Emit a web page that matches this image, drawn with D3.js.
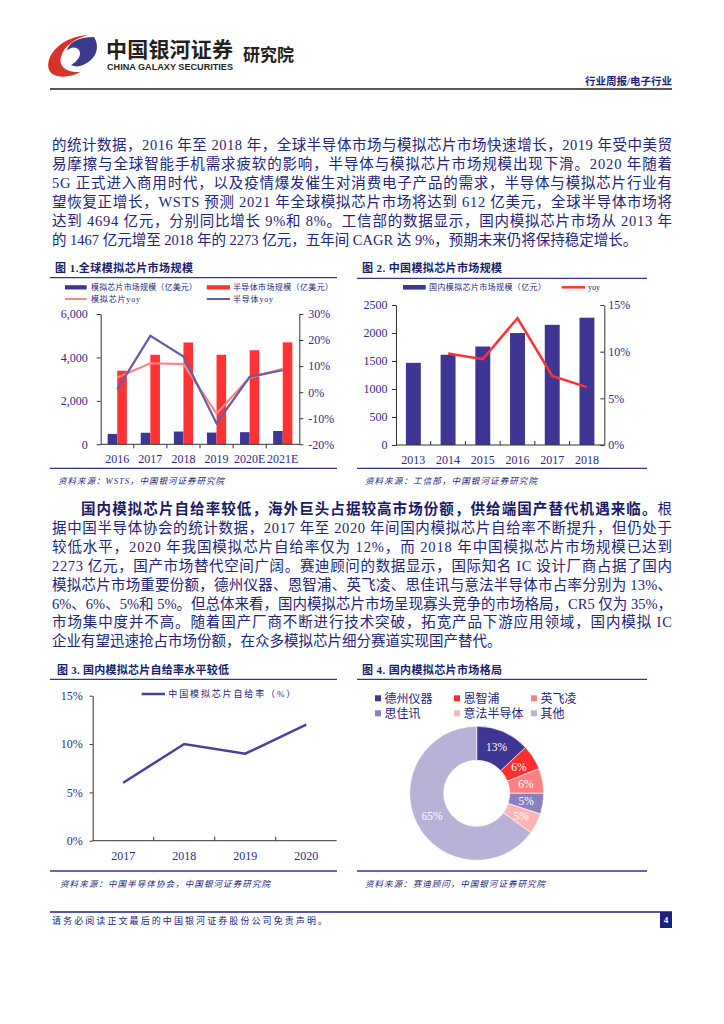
<!DOCTYPE html>
<html lang="zh">
<head>
<meta charset="UTF-8">
<title>行业周报/电子行业</title>
<script src="https://d3js.org/d3.v7.min.js"></script>
<style>
  html, body { margin: 0; padding: 0; background: #fff; }
  svg { display: block; }
  text { font-family: "Liberation Serif", "Noto Sans CJK SC", serif; }
  .tick text { font-size: 12px; fill: #2f2a85; }
  .tick line, .domain { stroke: #333; stroke-width: 1; }
</style>
</head>
<body>
<svg id="page" width="724" height="1024"></svg>
<script>
// ---- data ----
const globalYears = ["2016", "2017", "2018", "2019", "2020E", "2021E"];
const analogMarket = [478, 531, 588, 539, 557, 612];        // 亿美元
const semiMarket = [3389, 4122, 4688, 4123, 4331, 4694];    // 亿美元
const analogYoy = [5.6, 11.1, 10.8, -8.2, 5.5, 9.0];
const semiYoy = [1.1, 21.6, 13.7, -12.0, 5.9, 8.4];

const cnYears = ["2013", "2014", "2015", "2016", "2017", "2018"];
const cnMarket = [1467, 1611, 1759, 1999, 2146, 2273];      // 亿元
const cnYoy = [null, 9.8, 9.2, 13.6, 7.4, 6.2];

const selfYears = ["2017", "2018", "2019", "2020"];
const selfRate = [6, 10, 9, 12];

const vendors = ["德州仪器", "恩智浦", "英飞凌", "思佳讯", "意法半导体", "其他"];
const vendorShare = [13, 6, 6, 5, 5, 65];

const para1 = [
  "的统计数据，2016 年至 2018 年，全球半导体市场与模拟芯片市场快速增长，2019 年受中美贸",
  "易摩擦与全球智能手机需求疲软的影响，半导体与模拟芯片市场规模出现下滑。2020 年随着",
  "5G 正式进入商用时代，以及疫情爆发催生对消费电子产品的需求，半导体与模拟芯片行业有",
  "望恢复正增长，WSTS 预测 2021 年全球模拟芯片市场将达到 612 亿美元，全球半导体市场将",
  "达到 4694 亿元，分别同比增长 9%和 8%。工信部的数据显示，国内模拟芯片市场从 2013 年",
  "的 1467 亿元增至 2018 年的 2273 亿元，五年间 CAGR 达 9%，预期未来仍将保持稳定增长。"
];
const para2Lead = "国内模拟芯片自给率较低，海外巨头占据较高市场份额，供给端国产替代机遇来临。";
const para2 = [
  "根",
  "据中国半导体协会的统计数据，2017 年至 2020 年间国内模拟芯片自给率不断提升，但仍处于",
  "较低水平，2020 年我国模拟芯片自给率仅为 12%，而 2018 年中国模拟芯片市场规模已达到",
  "2273 亿元，国产市场替代空间广阔。赛迪顾问的数据显示，国际知名 IC 设计厂商占据了国内",
  "模拟芯片市场重要份额，德州仪器、恩智浦、英飞凌、思佳讯与意法半导体市占率分别为 13%、",
  "6%、6%、5%和 5%。但总体来看，国内模拟芯片市场呈现寡头竞争的市场格局，CR5 仅为 35%，",
  "市场集中度并不高。随着国产厂商不断进行技术突破，拓宽产品下游应用领域，国内模拟 IC",
  "企业有望迅速抢占市场份额，在众多模拟芯片细分赛道实现国产替代。"
];

// ---- colours ----
const NAVY = "#3f3694", RED = "#ff3333", PINK = "#ff8585", PURPLE = "#6a5ba6";
const TXT = "#24247a", RULE = "#34348c";
const sliceColors = ["#3f3694", "#ff2e2e", "#ff8080", "#8b7fbf", "#ffb5b5", "#b8b2d9"];

const svg = d3.select("#page");

// ---- header ----
const head = svg.append("g");
head.append("path")
  .attr("d", "M88,35 C64,36 44,54 49,70 C53,79 70,78 80,72 C68,73 58,67 61,57 C64,46 74,39 88,35 Z")
  .attr("fill", "#d8322a");
head.append("path")
  .attr("d", "M94,37 C100,46 97,58 85,64 C80,67 75,67 71,65 C78,61 82,55 79,50 C76,46 70,47 67,51 C68,43 78,37 94,37 Z")
  .attr("fill", "#3b3a8c");
head.append("text").attr("x", 106).attr("y", 57)
  .style("font-family", "'Noto Sans CJK SC'").attr("font-weight", "bold").attr("font-size", 21)
  .attr("fill", "#231f20").attr("textLength", 127).text("中国银河证券");
head.append("text").attr("x", 107).attr("y", 69.5)
  .style("font-family", "'Liberation Sans', Arial, sans-serif").attr("font-weight", "bold").attr("font-size", 9)
  .attr("fill", "#231f20").attr("textLength", 126).attr("lengthAdjust", "spacingAndGlyphs")
  .text("CHINA GALAXY SECURITIES");
head.append("text").attr("x", 243).attr("y", 61)
  .style("font-family", "'Noto Sans CJK SC'").attr("font-weight", "bold").attr("font-size", 17)
  .attr("fill", "#231f20").text("研究院");
head.append("text").attr("x", 672).attr("y", 85).attr("text-anchor", "end")
  .attr("font-weight", "bold").attr("font-size", 10.5).attr("fill", "#1f1f7a")
  .text("行业周报/电子行业");
head.append("line").attr("x1", 50).attr("x2", 672).attr("y1", 89).attr("y2", 89)
  .attr("stroke", "#222").attr("stroke-width", 1.6);

// ---- paragraphs ----
function paragraph(lines, y0, step) {
  lines.forEach((s, i) => {
    const t = svg.append("text").attr("x", 52).attr("y", y0 + i * step)
      .attr("font-size", 14.5).attr("fill", TXT).text(s);
    if (i < lines.length - 1) t.attr("textLength", 620).attr("lengthAdjust", "spacing");
  });
}
paragraph(para1, 150, 19);

const p2 = svg.append("text").attr("x", 81).attr("y", 514)
  .attr("font-size", 14.5).attr("fill", TXT)
  .attr("textLength", 591).attr("lengthAdjust", "spacing");
p2.append("tspan").attr("font-weight", "bold").attr("fill", "#1a1a66").text(para2Lead);
p2.append("tspan").text(para2[0]);
para2.slice(1).forEach((s, i) => {
  const t = svg.append("text").attr("x", 52).attr("y", 514 + (i + 1) * 18.9)
    .attr("font-size", 14.5).attr("fill", TXT).text(s);
  if (i < para2.length - 2) t.attr("textLength", 620).attr("lengthAdjust", "spacing");
});

// ---- chart frames ----
function frame(x0, x1, tx, ty, title, tLen, ruleY, srcY, src, sLen) {
  svg.append("text").attr("x", tx).attr("y", ty).attr("font-size", 11)
    .attr("font-weight", "bold").attr("fill", "#1c1c6b")
    .attr("textLength", tLen).attr("lengthAdjust", "spacing").text(title);
  svg.append("line").attr("x1", x0).attr("x2", x1).attr("y1", ruleY).attr("y2", ruleY)
    .attr("stroke", RULE).attr("stroke-width", 1.3);
  svg.append("line").attr("x1", x0).attr("x2", x1).attr("y1", srcY).attr("y2", srcY)
    .attr("stroke", RULE).attr("stroke-width", 1.3);
  svg.append("text").attr("x", tx + 3).attr("y", srcY + 16).attr("font-size", 8.5)
    .attr("font-style", "italic").attr("fill", TXT)
    .attr("textLength", sLen).attr("lengthAdjust", "spacing").text(src);
}
frame(50, 337, 55, 272, "图 1.全球模拟芯片市场规模", 138, 277.7, 468.3, "资料来源：WSTS，中国银河证券研究院", 166);
frame(357, 647, 362, 272, "图 2. 中国模拟芯片市场规模", 140, 278.3, 468.3, "资料来源：工信部，中国银河证券研究院", 172);
frame(50, 337, 57, 674, "图 3. 国内模拟芯片自给率水平较低", 172, 679.3, 871, "资料来源：中国半导体协会，中国银河证券研究院", 210);
frame(357, 647, 362, 674, "图 4. 国内模拟芯片市场格局", 140, 679.3, 871, "资料来源：赛迪顾问，中国银河证券研究院", 180);

function legendText(x, y, s, len, size) {
  const t = svg.append("text").attr("x", x).attr("y", y).attr("dy", "0.35em")
    .attr("font-size", size || 8).attr("fill", TXT).text(s);
  if (len) t.attr("textLength", len).attr("lengthAdjust", "spacing");
  return t;
}

function bottomAxis(x, y, tickDir, labelY) {
  const [r0, r1] = x.range();
  const g = svg.append("g");
  g.append("line").attr("x1", r0).attr("x2", r1).attr("y1", y).attr("y2", y).attr("stroke", "#333");
  g.selectAll("line.tk").data(x.domain().slice(1)).join("line").attr("class", "tk")
    .attr("x1", d => x(d)).attr("x2", d => x(d))
    .attr("y1", y).attr("y2", y + tickDir * 4).attr("stroke", "#333");
  g.selectAll("text").data(x.domain()).join("text")
    .attr("x", d => x(d) + x.bandwidth() / 2).attr("y", labelY)
    .attr("text-anchor", "middle").attr("font-size", 12).attr("fill", "#2f2a85")
    .text(d => d);
}

// ---- chart 1 ----
{
  const x = d3.scaleBand().domain(globalYears).range([100.7, 299.3]);
  const yL = d3.scaleLinear().domain([0, 6000]).range([444.3, 314]);
  const yR = d3.scaleLinear().domain([-20, 30]).range([444.3, 314]);
  const bw = x.bandwidth() * 0.29;

  legendText(91, 287.3, "模拟芯片市场规模（亿美元）", 106);
  legendText(233, 287.3, "半导体市场规模（亿美元）", 100);
  legendText(91, 299, "模拟芯片yoy", 49);
  legendText(233, 299, "半导体yoy", 40);
  svg.append("rect").attr("x", 65).attr("y", 285.2).attr("width", 21.7).attr("height", 4.3).attr("fill", NAVY);
  svg.append("rect").attr("x", 206.7).attr("y", 285.2).attr("width", 23.3).attr("height", 4.3).attr("fill", RED);
  svg.append("line").attr("x1", 65).attr("x2", 86.7).attr("y1", 299).attr("y2", 299).attr("stroke", PINK).attr("stroke-width", 2);
  svg.append("line").attr("x1", 206.7).attr("x2", 230).attr("y1", 299).attr("y2", 299).attr("stroke", PURPLE).attr("stroke-width", 2);

  const mid = d => x(d) + x.bandwidth() / 2;
  svg.append("g").selectAll("rect").data(globalYears).join("rect")
    .attr("x", d => mid(d) - bw).attr("width", bw)
    .attr("y", (d, i) => yL(analogMarket[i])).attr("height", (d, i) => yL(0) - yL(analogMarket[i]))
    .attr("fill", NAVY);
  svg.append("g").selectAll("rect").data(globalYears).join("rect")
    .attr("x", d => mid(d)).attr("width", bw)
    .attr("y", (d, i) => yL(semiMarket[i])).attr("height", (d, i) => yL(0) - yL(semiMarket[i]))
    .attr("fill", RED);

  svg.append("g").attr("transform", "translate(100.7,0)")
    .call(d3.axisLeft(yL).tickValues([0, 2000, 4000, 6000]).tickFormat(d3.format(","))
      .tickSize(4).tickSizeOuter(0).tickPadding(9));
  svg.append("g").attr("transform", "translate(299.3,0)")
    .call(d3.axisRight(yR).tickValues([-20, -10, 0, 10, 20, 30]).tickFormat(d => d + "%")
      .tickSize(4).tickSizeOuter(0).tickPadding(5));
  bottomAxis(x, 444.3, 1, 462.5);

  const line = d3.line().x((d, i) => mid(globalYears[i])).y(d => yR(d));
  svg.append("path").datum(analogYoy).attr("d", line)
    .attr("fill", "none").attr("stroke", PINK).attr("stroke-width", 2.2);
  svg.append("path").datum(semiYoy).attr("d", line)
    .attr("fill", "none").attr("stroke", PURPLE).attr("stroke-width", 2.2);
}

// ---- chart 2 ----
{
  const x = d3.scaleBand().domain(cnYears).range([396, 604.3]);
  const yL = d3.scaleLinear().domain([0, 2500]).range([445, 305]);
  const yR = d3.scaleLinear().domain([0, 15]).range([445, 305]);
  const bw = x.bandwidth() * 0.43;
  const mid = d => x(d) + x.bandwidth() / 2;

  svg.append("rect").attr("x", 403).attr("y", 285).attr("width", 22.7).attr("height", 4.6).attr("fill", NAVY);
  legendText(429, 287.3, "国内模拟芯片市场规模（亿元）", 117);
  svg.append("line").attr("x1", 561.7).attr("x2", 585).attr("y1", 287.3).attr("y2", 287.3)
    .attr("stroke", RED).attr("stroke-width", 2.5);
  legendText(588, 287.3, "yoy");

  svg.append("g").selectAll("rect").data(cnYears).join("rect")
    .attr("x", d => mid(d) - bw / 2).attr("width", bw)
    .attr("y", (d, i) => yL(cnMarket[i])).attr("height", (d, i) => yL(0) - yL(cnMarket[i]))
    .attr("fill", NAVY);

  svg.append("g").attr("transform", "translate(396,0)")
    .call(d3.axisLeft(yL).tickValues(d3.range(0, 2501, 500)).tickFormat(d => d)
      .tickSize(4).tickSizeOuter(0).tickPadding(4.5));
  svg.append("g").attr("transform", "translate(604.3,0)")
    .call(d3.axisRight(yR).tickValues([0, 5, 10, 15]).tickFormat(d => d + "%")
      .tickSize(-4).tickSizeOuter(0).tickPadding(4));
  bottomAxis(x, 445, -1, 463.5);

  const line = d3.line().defined(d => d != null).x((d, i) => mid(cnYears[i])).y(d => yR(d));
  svg.append("path").datum(cnYoy).attr("d", line)
    .attr("fill", "none").attr("stroke", RED).attr("stroke-width", 2.5);
}

// ---- chart 3 ----
{
  const x = d3.scaleBand().domain(selfYears).range([92.7, 336.7]);
  const y = d3.scaleLinear().domain([0, 15]).range([840.7, 695.7]);
  const mid = d => x(d) + x.bandwidth() / 2;

  svg.append("line").attr("x1", 141.7).attr("x2", 165).attr("y1", 694).attr("y2", 694)
    .attr("stroke", "#4b3f9c").attr("stroke-width", 2.5);
  legendText(168.3, 694, "中国模拟芯片自给率（%）", 127, 9);

  svg.append("g").attr("transform", "translate(92.7,0)")
    .call(d3.axisLeft(y).tickValues([0, 5, 10, 15]).tickFormat(d => d + "%")
      .tickSize(3).tickSizeOuter(0).tickPadding(7));
  bottomAxis(x, 840.7, -1, 860);

  const line = d3.line().x((d, i) => mid(selfYears[i])).y(d => y(d));
  svg.append("path").datum(selfRate).attr("d", line)
    .attr("fill", "none").attr("stroke", "#4b3f9c").attr("stroke-width", 2.5);
}

// ---- chart 4 ----
{
  const cols = [375, 454, 531];
  vendors.forEach((v, i) => {
    const cx = cols[i % 3], cy = i < 3 ? 698.3 : 713.3;
    svg.append("rect").attr("x", cx).attr("y", cy - 3).attr("width", 6).attr("height", 6)
      .attr("fill", sliceColors[i]);
    legendText(cx + 9.5, cy, v, null, 12);
  });

  const pie = d3.pie().sort(null).value(d => d)(vendorShare);
  const arc = d3.arc().innerRadius(33).outerRadius(67);
  const g = svg.append("g").attr("transform", "translate(476.7,793.3)");
  g.selectAll("path").data(pie).join("path")
    .attr("d", arc).attr("fill", (d, i) => sliceColors[i])
    .attr("stroke", "#fff").attr("stroke-width", 0.6);
  g.selectAll("text").data(pie).join("text")
    .attr("transform", d => `translate(${arc.centroid(d)})`)
    .attr("text-anchor", "middle").attr("dy", "0.35em")
    .attr("font-size", 11.5).attr("fill", "#fff")
    .text(d => d.data + "%");
}

// ---- footer ----
svg.append("line").attr("x1", 50).attr("x2", 672).attr("y1", 912).attr("y2", 912)
  .attr("stroke", "#1f1f7a").attr("stroke-width", 1.5);
svg.append("text").attr("x", 52).attr("y", 923.5).attr("font-size", 9).attr("fill", TXT)
  .attr("textLength", 275).attr("lengthAdjust", "spacing")
  .text("请务必阅读正文最后的中国银河证券股份公司免责声明。");
svg.append("rect").attr("x", 660).attr("y", 912).attr("width", 12).attr("height", 16).attr("fill", "#1f1f7a");
svg.append("text").attr("x", 666).attr("y", 923).attr("text-anchor", "middle")
  .attr("font-size", 9).attr("font-weight", "bold").attr("fill", "#fff").text("4");
</script>
</body>
</html>
